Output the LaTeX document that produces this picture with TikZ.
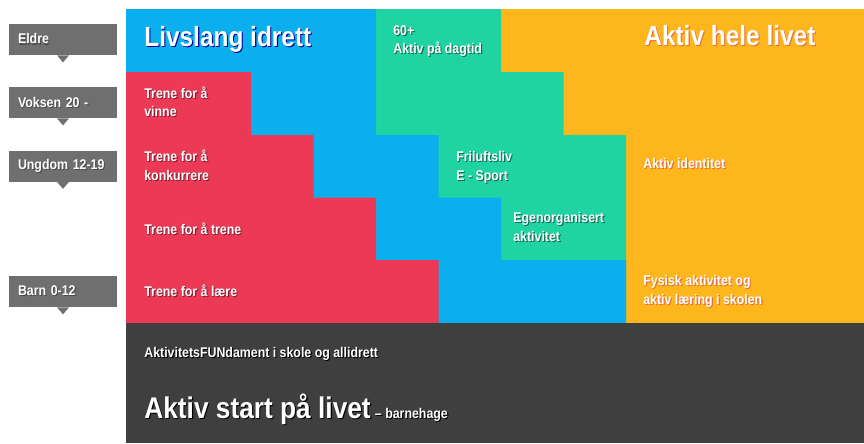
\documentclass[tikz,border=0pt]{standalone}
\usepackage{fontspec}
\setmainfont{Liberation Sans}[FakeStretch=0.88]
\usetikzlibrary{positioning}

\definecolor{lblue}{RGB}{12,175,238}
\definecolor{lred}{RGB}{236,58,86}
\definecolor{lgreen}{RGB}{32,211,162}
\definecolor{lorange}{RGB}{253,182,28}
\definecolor{ldark}{RGB}{63,63,63}
\definecolor{agegray}{RGB}{111,111,111}
\definecolor{orshade}{RGB}{236,104,62}

% white text with a small drop shadow
\colorlet{shcol}{black}
\newcommand\shd[1]{\leavevmode\rlap{\kern0.6pt\raisebox{-0.6pt}{\textcolor{shcol}{#1}}}#1}

\tikzset{
    txt/.style={text=white, inner sep=0pt, anchor=base west, align=left,
        font=\bfseries\fontsize{8}{10.3}\selectfont,
        execute at begin node={\colorlet{shcol}{#1}}},
    txt/.default=black!60,
    head/.style={txt=#1, font=\bfseries\fontsize{15.8}{18}\selectfont},
    agebox/.style={fill=agegray, text=white, align=left,
        font=\bfseries\fontsize{8}{10}\selectfont,
        minimum width=2.16cm, minimum height=0.62cm, text width=1.8cm,
        inner xsep=0.18cm, inner ysep=0pt,
        execute at begin node={\colorlet{shcol}{black!70}}}
}

\begin{document}
\begin{tikzpicture}[x=0.02cm, y=-0.02cm]
    \useasboundingbox (0,0) rectangle (864,443);
    % Areas
    \fill[lorange] (126,9) rectangle (864,323);
    \fill[lgreen] (126,9) -- (501,9) -- (501,72) -- (563.5,72) -- (563.5,135)
        -- (626,135) -- (626,323) -- (126,323) -- cycle;
    \fill[lblue] (126,9) -- (376,9) -- (376,135) -- (438.5,135) -- (438.5,197.5)
        -- (501,197.5) -- (501,260) -- (626,260) -- (626,323) -- (126,323) -- cycle;
    \fill[lred] (126,72) -- (251,72) -- (251,135) -- (313.5,135) -- (313.5,197.5)
        -- (376,197.5) -- (376,260) -- (438.5,260) -- (438.5,323) -- (126,323) -- cycle;
    \fill[ldark] (126,323) rectangle (864,443);
    % Age labels
    \node[agebox] (eldre) at (63,39.5) {\shd{Eldre}};
    \node[agebox] (voksen) at (63,102.5) {\shd{Voksen 20 -}};
    \node[agebox] (ungdom) at (63,166) {\shd{Ungdom 12-19}};
    \node[agebox] (barn) at (63,291.5) {\shd{Barn 0-12}};
    \foreach \a in {eldre,voksen,ungdom,barn}
        \fill[agegray] (\a.south) ++(-6,0) -- ++(12,0) -- ++(-6,7) -- cycle;
    % Headings
    \node[head=blue!60!black] (livslang) at (144,46.5) {\shd{Livslang idrett}};
    \node[head=orshade] (helelivet) at (644,45.5) {\shd{Aktiv hele livet}};
    % Red steps (two-line nodes sit on their last line)
    \node[txt=lred!55!black] (vinne) at (144,116.7) {\shd{Trene for å}\\\shd{vinne}};
    \node[txt=lred!55!black] (konkurrere) at (144,180) {\shd{Trene for å}\\\shd{konkurrere}};
    \node[txt=lred!55!black] (trene) at (144,234) {\shd{Trene for å trene}};
    \node[txt=lred!55!black] (laere) at (144,296.7) {\shd{Trene for å lære}};
    % Green steps
    \node[txt=lgreen!50!black] (dagtid) at (393,53.3) {\shd{60+}\\\shd{Aktiv på dagtid}};
    \node[txt=lgreen!50!black] (friluft) at (456,180) {\shd{Friluftsliv}\\\shd{E - Sport}};
    \node[txt=lgreen!50!black] (egenorg) at (513,241) {\shd{Egenorganisert}\\\shd{aktivitet}};
    % Orange column
    \node[txt=orshade] (identitet) at (643,168.3) {\shd{Aktiv identitet}};
    \node[txt=orshade] (fysisk) at (643,304) {\shd{Fysisk aktivitet og}\\\shd{aktiv læring i skolen}};
    % Foundation
    \node[txt=black] (fundament) at (144,357.7) {\shd{AktivitetsFUNdament i skole og allidrett}};
    \node[txt=black, font=\bfseries\fontsize{17}{20}\selectfont] (start) at (144,418.3)
        {\shd{Aktiv start på livet}};
    \node[txt=black, right=2pt of start.base east, anchor=base west] (barnehage)
        {\shd{– barnehage}};
\end{tikzpicture}
\end{document}
